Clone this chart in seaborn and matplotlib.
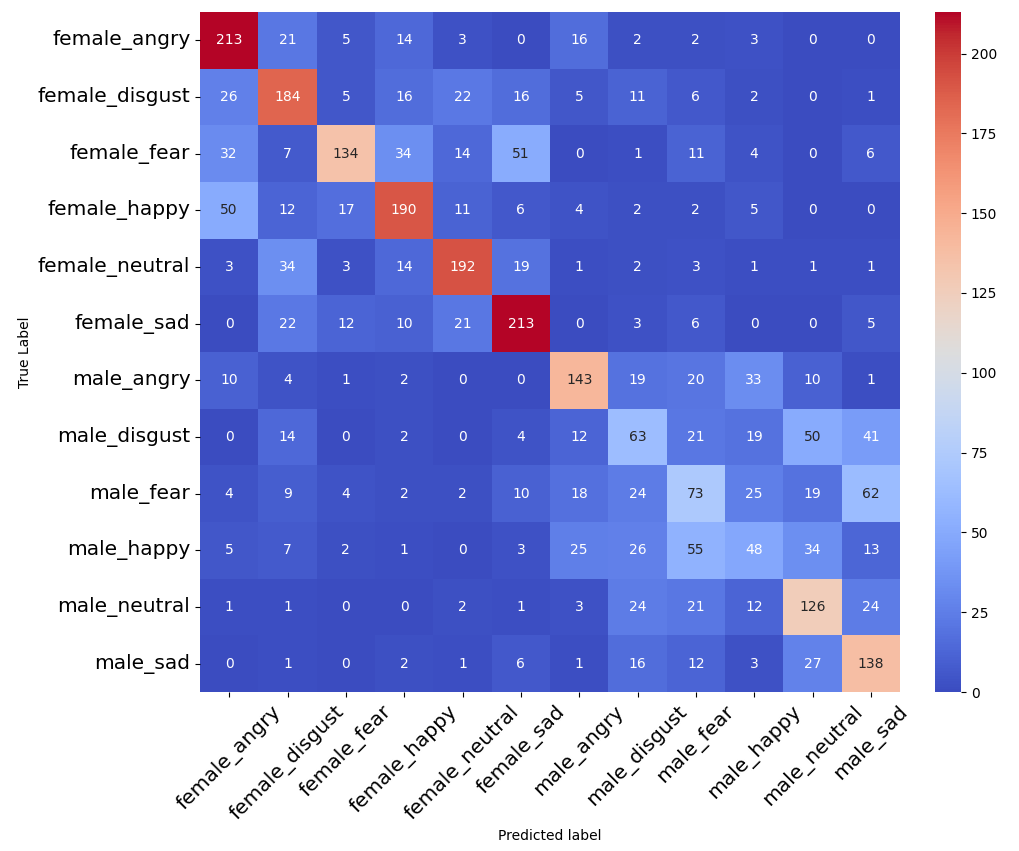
import matplotlib
matplotlib.use("Agg")
import matplotlib.pyplot as plt
import seaborn as sns
import pandas as pd
import numpy as np

labels = ["female_angry", "female_disgust", "female_fear", "female_happy",
          "female_neutral", "female_sad", "male_angry", "male_disgust",
          "male_fear", "male_happy", "male_neutral", "male_sad"]

row_female_angry = [213, 21, 5, 14, 3, 0, 16, 2, 2, 3, 0, 0]
row_female_disgust = [26, 184, 5, 16, 22, 16, 5, 11, 6, 2, 0, 1]
row_female_fear = [32, 7, 134, 34, 14, 51, 0, 1, 11, 4, 0, 6]
row_female_happy = [50, 12, 17, 190, 11, 6, 4, 2, 2, 5, 0, 0]
row_female_neutral = [3, 34, 3, 14, 192, 19, 1, 2, 3, 1, 1, 1]
row_female_sad = [0, 22, 12, 10, 21, 213, 0, 3, 6, 0, 0, 5]
row_male_angry = [10, 4, 1, 2, 0, 0, 143, 19, 20, 33, 10, 1]
row_male_disgust = [0, 14, 0, 2, 0, 4, 12, 63, 21, 19, 50, 41]
row_male_fear = [4, 9, 4, 2, 2, 10, 18, 24, 73, 25, 19, 62]
row_male_happy = [5, 7, 2, 1, 0, 3, 25, 26, 55, 48, 34, 13]
row_male_neutral = [1, 1, 0, 0, 2, 1, 3, 24, 21, 12, 126, 24]
row_male_sad = [0, 1, 0, 2, 1, 6, 1, 16, 12, 3, 27, 138]

cm = pd.DataFrame(
    [row_female_angry, row_female_disgust, row_female_fear, row_female_happy,
     row_female_neutral, row_female_sad, row_male_angry, row_male_disgust,
     row_male_fear, row_male_happy, row_male_neutral, row_male_sad],
    index=labels, columns=labels)

fig = plt.figure(figsize=(10.19, 8.51), dpi=100)
ax = fig.add_axes([200 / 1019, 1 - 692 / 851, 700 / 1019, 680 / 851])
cax = fig.add_axes([935 / 1019, 1 - 692 / 851, 26 / 1019, 680 / 851])

sns.heatmap(cm, annot=True, fmt='d', cmap='coolwarm', ax=ax, cbar_ax=cax,
            annot_kws={"fontsize": 10})

ax.set_xlabel("Predicted label", fontsize=10)
ax.set_ylabel("True Label", fontsize=10)
ax.tick_params(axis='x', labelsize=14.5, rotation=45)
ax.tick_params(axis='y', labelsize=14.5, rotation=0)
cax.tick_params(labelsize=10)

fig.savefig("out.png", dpi=100)
